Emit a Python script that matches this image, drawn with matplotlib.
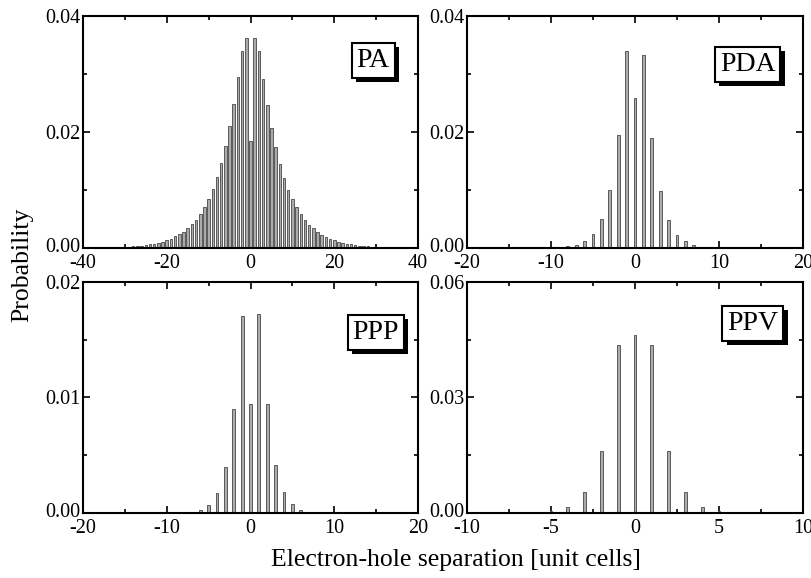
import matplotlib.pyplot as plt
import matplotlib.patheffects as pe
import matplotlib.transforms as mtransforms
import numpy as np

plt.rcParams['font.family'] = ['Liberation Serif', 'DejaVu Serif']

# PA: values for separations 0, 1, 2, ... (right side) and -1, -2, ... (left side)
PA_CENTER = 0.0184
PA_RIGHT = [0.0362, 0.0339, 0.0292, 0.0247, 0.0207, 0.0174, 0.0145, 0.0121, 0.0100,
            0.0084, 0.0070, 0.0059, 0.0049, 0.0040, 0.0034, 0.0028, 0.0023, 0.0019,
            0.0016, 0.0013, 0.0011, 0.0009, 0.00075, 0.00062, 0.00052, 0.00043,
            0.00034, 0.00028, 0.00022, 0.00017]
PA_LEFT = [0.0362, 0.0340, 0.0294, 0.0249, 0.0210, 0.0176, 0.0146, 0.0122, 0.0101,
           0.0084, 0.0071, 0.0059, 0.0049, 0.0041, 0.0034, 0.0028, 0.0024, 0.0020,
           0.0016, 0.0013, 0.0011, 0.0009, 0.00075, 0.00063, 0.00052, 0.00043,
           0.00034, 0.00029, 0.00023, 0.00017]

PDA_CENTER = 0.0259
PDA_RIGHT = [0.0333, 0.0189, 0.0098, 0.0048, 0.0023, 0.00115, 0.00052, 0.00025, 0.00012, 0.00006]
PDA_LEFT = [0.0340, 0.0195, 0.0100, 0.0050, 0.0025, 0.0012, 0.00057, 0.00029, 0.00015, 0.00008]

PPP_CENTER = 0.00947
PPP_RIGHT = [0.0172, 0.0094, 0.00416, 0.00185, 0.00075, 0.00029, 0.00012, 0.00005]
PPP_LEFT = [0.01703, 0.0090, 0.00398, 0.00173, 0.00069, 0.00029, 0.00012, 0.00005]

PPV_CENTER = 0.0462
PPV_RIGHT = [0.0437, 0.0162, 0.0054, 0.0016, 0.0004, 0.0001]
PPV_LEFT = [0.0437, 0.0162, 0.0054, 0.0016, 0.0004, 0.0001]

PANELS = [
    ('PA', PA_CENTER, PA_RIGHT, PA_LEFT, (-40, 40), 20, 10, (0, 0.04), [0, 0.02, 0.04], 0.01, 0.6,
     [0.1022, 0.5709, 0.4126, 0.4014], (0.866, 0.81)),
    ('PDA', PDA_CENTER, PDA_RIGHT, PDA_LEFT, (-20, 20), 10, 5, (0, 0.04), [0, 0.02, 0.04], 0.01, 0.33,
     [0.5751, 0.5709, 0.4138, 0.4014], (0.835, 0.793)),
    ('PPP', PPP_CENTER, PPP_RIGHT, PPP_LEFT, (-20, 20), 10, 5, (0, 0.02), [0, 0.01, 0.02], 0.005, 0.33,
     [0.1022, 0.1125, 0.4126, 0.3997], (0.874, 0.78)),
    ('PPV', PPV_CENTER, PPV_RIGHT, PPV_LEFT, (-10, 10), 5, 2.5, (0, 0.06), [0, 0.03, 0.06], 0.015, 0.17,
     [0.5751, 0.1125, 0.4138, 0.3997], (0.851, 0.822)),
]

fig = plt.figure(figsize=(8.12, 5.78), dpi=100)

for name, c, right, left, xlim, xmaj, xmin, ylim, yticks, ymin, width, rect, lpos in PANELS:
    ax = fig.add_axes(rect)
    xs = np.arange(-len(left), len(right) + 1)
    ys = list(reversed(left)) + [c] + list(right)
    ax.bar(xs, ys, width=width, color='#ababab', edgecolor='#5a5a5a', linewidth=0.7, zorder=2)
    ax.set_xlim(xlim)
    ax.set_ylim(ylim)
    ax.set_xticks(np.arange(xlim[0], xlim[1] + 0.01, xmaj))
    ax.set_xticks(np.arange(xlim[0], xlim[1] + 0.01, xmin), minor=True)
    ax.set_yticks(yticks)
    ax.set_yticks(np.arange(ylim[0], ylim[1] + 1e-9, ymin), minor=True)
    ax.set_yticklabels([f'{v:.2f}' for v in yticks])
    ax.set_xticklabels([f'{v:g}' for v in ax.get_xticks()])
    ax.tick_params(which='both', direction='in', top=True, right=True, labelsize=14.5, width=1.2)
    ax.tick_params(which='major', length=5)
    ax.tick_params(which='minor', length=3)
    ax.tick_params(axis='x', pad=4)
    ax.tick_params(axis='y', pad=2)
    # lift the "0.00" label a little, as in the original
    lab0 = ax.get_yticklabels()[0]
    lab0.set_transform(lab0.get_transform() + mtransforms.ScaledTranslation(0, 2 / 72, fig.dpi_scale_trans))
    for s in ax.spines.values():
        s.set_linewidth(1.5)
    t = ax.text(lpos[0], lpos[1], name, transform=ax.transAxes, ha='center', va='center',
                fontsize=20, zorder=5,
                bbox=dict(boxstyle='square,pad=0.18', fc='white', ec='black', lw=1.5))
    t.get_bbox_patch().set_path_effects([
        pe.SimplePatchShadow(offset=(3, -3), shadow_rgbFace='black', alpha=1),
        pe.Normal()])

fig.text(22 / 812, 1 - 265 / 578, 'Probability', rotation=90, ha='center', va='center', fontsize=18.5)
fig.text(456 / 812, 1 - 560 / 578, 'Electron-hole separation [unit cells]', ha='center', va='center',
         fontsize=18.5)

fig.savefig('out.png', dpi=100)
